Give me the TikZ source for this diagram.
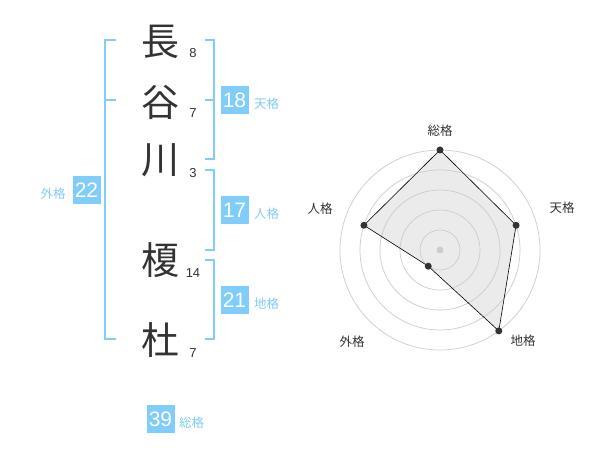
\documentclass[tikz,border=0pt]{standalone}
\usepackage{fontspec}
\setmainfont{Liberation Sans}
\newfontfamily\cjk{Noto Sans CJK JP}
\definecolor{sky}{RGB}{128,204,250}
\definecolor{ink}{RGB}{51,51,51}
\definecolor{ring}{RGB}{204,204,204}
\definecolor{area}{RGB}{235,235,235}
\tikzset{
  kanji/.style={inner sep=0pt, text=ink, font=\cjk\fontsize{38}{38}\selectfont},
  strokes/.style={inner sep=0pt, text=ink, font=\fontsize{13}{13}\selectfont},
  numbox/.style={fill=sky, text=white, minimum size=28pt, inner sep=0pt, font=\fontsize{21}{21}\selectfont},
  kaku/.style={inner sep=0pt, text=sky, font=\cjk\fontsize{12.5}{12.5}\selectfont},
  bracket/.style={draw=sky, line width=2pt},
  radarlbl/.style={inner sep=0pt, text=ink, font=\cjk\fontsize{12.5}{12.5}\selectfont},
  dot/.style={circle, fill=ink, inner sep=0pt, minimum size=7pt},
}
\begin{document}
\begin{tikzpicture}[x=1pt,y=-1pt]
\useasboundingbox[fill=white] (0,0) rectangle (600,470);
% characters
\node[kanji] (k1) at (160,42) {長};
\node[kanji] (k2) at (160,102) {谷};
\node[kanji] (k3) at (160,160) {川};
\node[kanji] (k4) at (160,260) {榎};
\node[kanji] (k5) at (160,340) {杜};
% stroke counts
\node[strokes] (s1) at (193,53) {8};
\node[strokes] (s2) at (193,113) {7};
\node[strokes] (s3) at (193,173) {3};
\node[strokes] (s4) at (193,273) {14};
\node[strokes] (s5) at (193,353) {7};
% left bracket (外格)
\coordinate (lt) at (116,40);
\coordinate (lm) at (116,100);
\coordinate (lb) at (116,339);
\draw[bracket] (lt) -- (105,40) -- (105,339) -- (lb);
\draw[bracket] (105,100) -- (lm);
% right brackets
\coordinate (t1) at (205,40);
\coordinate (t2) at (205,100);
\coordinate (t3) at (205,159);
\draw[bracket] (t1) -- (214,40) -- (214,159) -- (t3);
\draw[bracket] (t2) -- (214,100);
\coordinate (j1) at (205,170);
\coordinate (j2) at (205,250);
\draw[bracket] (j1) -- (214,170) -- (214,250) -- (j2);
\coordinate (c1) at (205,260);
\coordinate (c2) at (205,339);
\draw[bracket] (c1) -- (214,260) -- (214,339) -- (c2);
% boxes and labels
\node[numbox] (gai) at (86.5,190) {22};
\node[kaku] (gail) at (53,194) {外格};
\node[numbox] (ten) at (234.5,100) {18};
\node[kaku, anchor=west] (tenl) at (254,104) {天格};
\node[numbox] (jin) at (234.5,210) {17};
\node[kaku, anchor=west] (jinl) at (254,214) {人格};
\node[numbox] (chi) at (234.5,300) {21};
\node[kaku, anchor=west] (chil) at (254,304) {地格};
\node[numbox] (sou) at (160.5,419) {39};
\node[kaku, anchor=west] (soul) at (179,423) {総格};
% radar chart
\begin{scope}[shift={(440,250)}]
  \coordinate (O) at (0,0);
  \coordinate (pS) at (90:100pt);
  \coordinate (pT) at (18:80pt);
  \coordinate (pC) at (-54:100pt);
  \coordinate (pG) at (-126:20pt);
  \coordinate (pJ) at (162:80pt);
  \fill[area] (pS) -- (pT) -- (pC) -- (pG) -- (pJ) -- cycle;
  \foreach \r in {20,40,60,80,100} {
    \draw[ring, line width=0.7pt] (O) circle[radius=\r pt];
  }
  \fill[ring] (O) circle[radius=3.5pt];
  \draw[black, line width=0.6pt] (pS) -- (pT) -- (pC) -- (pG) -- (pJ) -- cycle;
  \node[dot] (dS) at (pS) {};
  \node[dot] (dT) at (pT) {};
  \node[dot] (dC) at (pC) {};
  \node[dot] (dG) at (pG) {};
  \node[dot] (dJ) at (pJ) {};
\end{scope}
\node[radarlbl] (lS) at (440,131) {総格};
\node[radarlbl] (lT) at (562,208) {天格};
\node[radarlbl] (lC) at (523,341) {地格};
\node[radarlbl] (lG) at (352,342) {外格};
\node[radarlbl] (lJ) at (320,209) {人格};
\end{tikzpicture}
\end{document}
